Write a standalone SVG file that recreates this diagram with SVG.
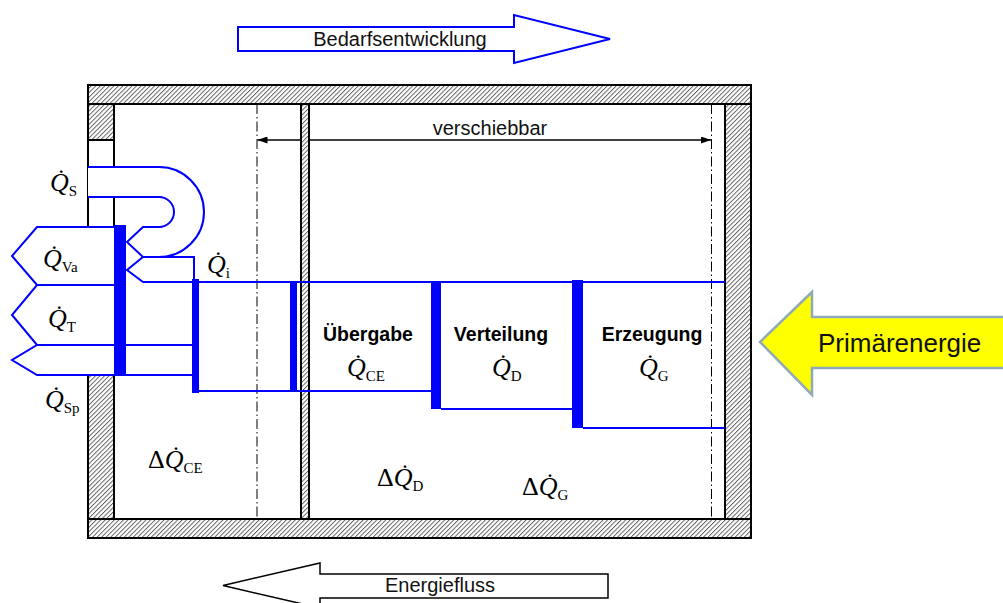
<svg xmlns="http://www.w3.org/2000/svg" width="1003" height="603" viewBox="0 0 1003 603">
<defs>
<pattern id="hatch" width="3.2" height="3.2" patternUnits="userSpaceOnUse" patternTransform="rotate(45)">
<rect width="3.2" height="3.2" fill="#fff"/>
<line x1="0.5" y1="0" x2="0.5" y2="3.2" stroke="#555" stroke-width="0.9"/>
</pattern>
<marker id="ah" viewBox="0 0 10 7" refX="10" refY="3.5" markerWidth="10" markerHeight="7" markerUnits="userSpaceOnUse" orient="auto-start-reverse">
<path d="M0,0 L10,3.5 L0,7 Z" fill="#000"/>
</marker>
<style>
.wall{fill:url(#hatch);stroke:#000;stroke-width:2}
.wl{stroke:#000;stroke-width:2;fill:none}
.dd{stroke:#000;stroke-width:1;stroke-dasharray:10 3 1.5 3;fill:none}
.bl{stroke:#0000ff;stroke-width:2;fill:none;stroke-linejoin:miter}
.blf{stroke:#0000ff;stroke-width:2;fill:#fff;stroke-linejoin:miter}
.bar{fill:#0000ff;stroke:none}
.sans{font-family:"Liberation Sans",Arial,sans-serif;font-size:20px;fill:#111}
.bold{font-family:"Liberation Sans",Arial,sans-serif;font-size:19.5px;font-weight:bold;fill:#000;text-anchor:middle}
.q{font-family:"Liberation Serif","Times New Roman",serif;font-size:26px;fill:#000}
.qi{font-style:italic}
.sub{font-size:15px;font-style:normal}
</style>
</defs>
<rect width="1003" height="603" fill="#fff"/>

<g id="building">
<rect class="wall" x="88" y="85" width="663" height="19"/>
<rect class="wall" x="88" y="519" width="663" height="19"/>
<rect class="wall" x="725" y="104" width="26" height="415"/>
<rect class="wall" x="88" y="104" width="26" height="36"/>
<rect class="wall" x="88" y="375" width="26" height="144"/>
<line class="wl" x1="88" y1="140" x2="88" y2="375"/>
<line class="wl" x1="114" y1="140" x2="114" y2="375"/>
<line class="dd" x1="257" y1="104" x2="257" y2="519"/>
<line class="dd" x1="711.5" y1="104" x2="711.5" y2="519"/>
</g>

<g id="verschiebbar">
<line x1="257.5" y1="140" x2="711" y2="140" stroke="#000" stroke-width="1.5" marker-start="url(#ah)" marker-end="url(#ah)"/>
<text class="sans" x="490" y="135" text-anchor="middle">verschiebbar</text>
</g>

<g id="thin-wall">
<rect class="wall" x="301" y="104" width="8" height="415"/>
</g>

<g id="arrow-bedarf">
<polygon class="blf" points="238,27 514,27 514,15 610,39 514,63 514,51 238,51"/>
<text class="sans" x="400" y="46" text-anchor="middle">Bedarfsentwicklung</text>
</g>

<g id="arrow-energiefluss">
<polygon points="608,574 320,574 320,563 223,585.5 320,608 320,598 608,598" fill="#fff" stroke="#000" stroke-width="1.5"/>
<text class="sans" x="440" y="592" text-anchor="middle">Energiefluss</text>
</g>

<g id="arrow-primaer">
<polygon points="1010,317 812,317 812,292 760,342 812,395 812,368 1010,368" fill="#ffff00" stroke="#8fa9b8" stroke-width="2.5"/>
<text class="sans" x="818" y="352" style="font-size:26px">Primärenergie</text>
</g>

<g id="flows">
<path d="M88,167 H159 A45,45 0 0 1 159,257 H143 L127,242 L143,227 H159 A15,15 0 0 0 159,197 H88 Z" fill="#fff" stroke="none"/>
<path class="bl" d="M88,167 H159 A45,45 0 0 1 159,257"/>
<path class="bl" d="M88,197 H159 A15,15 0 0 1 159,227 H143 L127,242 L143,257 L127,270 L143,282 H725"/>
<path class="bl" d="M143,257 H194 V282"/>
<path class="blf" d="M114,227 H37 L12,256 L37,285 H114"/>
<path class="blf" d="M114,285 H37 L12,315 L37,345 H193"/>
<path class="blf" d="M193,345 H37 L12,360 L37,375 H193"/>
<path class="bl" d="M199,391 H431"/>
<path class="bl" d="M441,409 H573"/>
<path class="bl" d="M583,428 H725"/>
<rect class="bar" x="114" y="225" width="12" height="150"/>
<rect class="bar" x="192" y="279" width="7" height="114"/>
<rect class="bar" x="290" y="281" width="7" height="111"/>
<rect class="bar" x="431" y="281" width="10" height="128"/>
<rect class="bar" x="572" y="280" width="11" height="148"/>
</g>

<g id="labels">
<text class="q" x="50" y="191"><tspan class="qi">Q̇</tspan><tspan class="sub" dy="5">S</tspan></text>
<text class="q" x="43" y="267"><tspan class="qi">Q̇</tspan><tspan class="sub" dy="5">Va</tspan></text>
<text class="q" x="48" y="327"><tspan class="qi">Q̇</tspan><tspan class="sub" dy="5">T</tspan></text>
<text class="q" x="45" y="408"><tspan class="qi">Q̇</tspan><tspan class="sub" dy="5">Sp</tspan></text>
<text class="q" x="207" y="273"><tspan class="qi">Q̇</tspan><tspan class="sub" dy="5">i</tspan></text>
<text class="bold" x="368" y="341">Übergabe</text>
<text class="bold" x="501" y="341">Verteilung</text>
<text class="bold" x="652" y="341">Erzeugung</text>
<text class="q" x="347" y="376"><tspan class="qi">Q̇</tspan><tspan class="sub" dy="5">CE</tspan></text>
<text class="q" x="492" y="376"><tspan class="qi">Q̇</tspan><tspan class="sub" dy="5">D</tspan></text>
<text class="q" x="639" y="376"><tspan class="qi">Q̇</tspan><tspan class="sub" dy="5">G</tspan></text>
<text class="q" x="148" y="468">Δ<tspan class="qi">Q̇</tspan><tspan class="sub" dy="5">CE</tspan></text>
<text class="q" x="377" y="486">Δ<tspan class="qi">Q̇</tspan><tspan class="sub" dy="5">D</tspan></text>
<text class="q" x="522" y="495">Δ<tspan class="qi">Q̇</tspan><tspan class="sub" dy="5">G</tspan></text>
</g>
</svg>
